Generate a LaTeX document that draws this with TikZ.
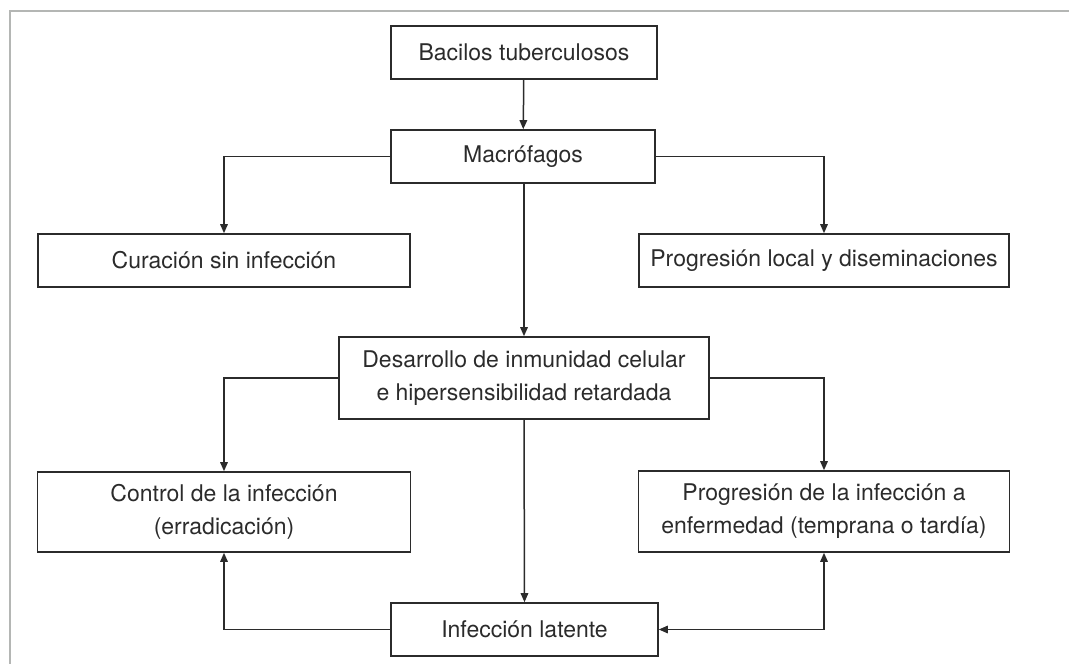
\documentclass[tikz,border=0pt]{standalone}
\usepackage{fontspec}
\setmainfont{TeX Gyre Heros}
\usetikzlibrary{arrows.meta}
\definecolor{ink}{HTML}{2B2B2B}
\definecolor{frame}{HTML}{B4B6B4}
\begin{document}
\begin{tikzpicture}[x=1pt, y=-1pt,
    box/.style={draw=ink, line width=1.6pt, text=ink, inner sep=0pt, align=center,
                font=\fontsize{23}{33}\selectfont},
    link/.style={draw=ink, line width=1.5pt, -{Triangle[length=9pt, width=7.5pt]}}]
      \useasboundingbox (0, 0) rectangle (1069, 664);
      \draw[frame, line width=2.5pt] (10, 664) -- (10, 11) -- (1069, 11);
      \node (bacilos) [box, minimum width=266, minimum height=53] at (524, 52.5) {Bacilos tuberculosos};
      \node (macro) [box, minimum width=264, minimum height=53] at (523, 156.5) {Macrófagos};
      \node (curacion) [box, minimum width=372, minimum height=53] at (224, 260.5) {Curación sin infección};
      \node (local) [box, minimum width=370, minimum height=53] at (824, 260.5) {Progresión local y diseminaciones};
      \node (desarrollo) [box, minimum width=370, minimum height=82] at (524, 378) {Desarrollo de inmunidad celular\\e hipersensibilidad retardada};
      \node (control) [box, minimum width=373, minimum height=80] at (224, 512) {Control de la infección\\(erradicación)};
      \node (enfermedad) [box, minimum width=371, minimum height=81] at (824, 511.5) {Progresión de la infección a\\enfermedad (temprana o tardía)};
      \node (latente) [box, minimum width=267, minimum height=53] at (524.5, 629.5) {Infección latente};
      \draw[link] (bacilos) -- (macro);
      \draw[link] (macro.west) -| (curacion.north);
      \draw[link] (macro.east) -| (local.north);
      \draw[link] (macro.south -| desarrollo.north) -- (desarrollo.north);
      \draw[link] (desarrollo.west) -| (control.north);
      \draw[link] (desarrollo.east) -| (enfermedad.north);
      \draw[link] (desarrollo.south) -- (latente.north);
      \draw[link] (latente.west) -| (control.south);
      \draw[link, {Triangle[length=9pt, width=7.5pt]}-{Triangle[length=9pt, width=7.5pt]}] (latente.east) -| (enfermedad.south);
\end{tikzpicture}
\end{document}
